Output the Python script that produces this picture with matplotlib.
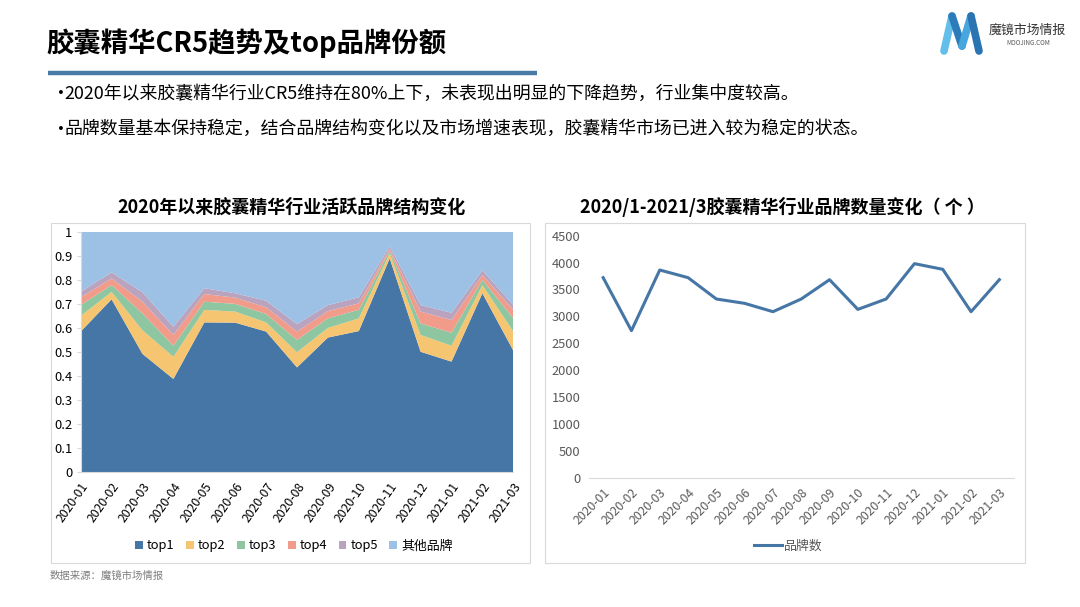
import matplotlib
matplotlib.use("Agg")
import matplotlib.pyplot as plt
from matplotlib.patches import Rectangle
from matplotlib.lines import Line2D
import numpy as np

plt.rcParams['font.family'] = ['Noto Sans CJK SC', 'DejaVu Sans']

months = ["2020-01", "2020-02", "2020-03", "2020-04", "2020-05", "2020-06", "2020-07",
          "2020-08", "2020-09", "2020-10", "2020-11", "2020-12", "2021-01", "2021-02", "2021-03"]

# cumulative boundaries, converted to shares
cum_top1 = [0.585, 0.719, 0.492, 0.388, 0.623, 0.622, 0.585, 0.436, 0.560, 0.587, 0.889, 0.501, 0.460, 0.744, 0.506]
cum_top2 = [0.650, 0.750, 0.590, 0.480, 0.675, 0.668, 0.623, 0.499, 0.600, 0.640, 0.910, 0.571, 0.526, 0.778, 0.585]
cum_top3 = [0.695, 0.778, 0.660, 0.526, 0.709, 0.700, 0.658, 0.550, 0.640, 0.675, 0.921, 0.619, 0.580, 0.800, 0.640]
cum_top4 = [0.727, 0.806, 0.709, 0.571, 0.741, 0.726, 0.686, 0.585, 0.670, 0.702, 0.929, 0.668, 0.633, 0.820, 0.675]
cum_top5 = [0.750, 0.831, 0.748, 0.605, 0.765, 0.744, 0.713, 0.616, 0.695, 0.727, 0.940, 0.695, 0.663, 0.840, 0.695]

top1 = np.array(cum_top1)
top2 = np.array(cum_top2) - np.array(cum_top1)
top3 = np.array(cum_top3) - np.array(cum_top2)
top4 = np.array(cum_top4) - np.array(cum_top3)
top5 = np.array(cum_top5) - np.array(cum_top4)
others = 1 - np.array(cum_top5)

series_names = ["top1", "top2", "top3", "top4", "top5", "其他品牌"]
series_colors = ["#4576A5", "#F5C572", "#8DC6A0", "#F19C8A", "#B9A3BF", "#9DC0E5"]

brand_count = [3720, 2734, 3862, 3720, 3323, 3242, 3087, 3323, 3682, 3130, 3323, 3980, 3875, 3087, 3682]

W, H = 1080, 607
fig = plt.figure(figsize=(W / 100, H / 100), dpi=100)
fig.patch.set_facecolor("white")

def fx(x):
    return x / W

def fy(y):
    return 1 - y / H

# Header
fig.text(fx(46), fy(43), "胶囊精华CR5趋势及top品牌份额", fontsize=19.7, fontweight="bold",
         va="center", ha="left", color="#000000")
fig.add_artist(Line2D([fx(48), fx(537)], [fy(73), fy(73)], color="#4A7BA7", lw=3.2,
                      solid_capstyle="butt"))
for yy, txt in [(94, "2020年以来胶囊精华行业CR5维持在80%上下，未表现出明显的下降趋势，行业集中度较高。"),
                (129, "品牌数量基本保持稳定，结合品牌结构变化以及市场增速表现，胶囊精华市场已进入较为稳定的状态。")]:
    fig.text(fx(57), fy(yy), "•", fontsize=9.5, va="center", ha="left", color="#000000",
             family="DejaVu Sans")
    fig.text(fx(64.5), fy(yy), txt, fontsize=12.9, va="center", ha="left", color="#000000")

# Logo (stylised ribbon "M")
segs = [((944, 51), (952, 16), "#62BFEA"),
        ((952, 16), (962, 46), "#2C7CBC"),
        ((962, 46), (971, 16), "#46A6DD"),
        ((971, 16), (979, 51), "#2A74B2")]
for (x0, y0), (x1, y1), c in segs:
    fig.add_artist(Line2D([fx(x0), fx(x1)], [fy(y0), fy(y1)], color=c, lw=5.5,
                          solid_capstyle="round"))
fig.text(fx(989), fy(30), "魔镜市场情报", fontsize=9.3, va="center", ha="left", color="#333333")
fig.text(fx(1028), fy(43), "MOOJING.COM", fontsize=4.5, va="center", ha="center", color="#555555")

# Chart borders
for x0, y0, x1, y1 in [(51, 223, 530, 563), (545, 223, 1025, 563)]:
    fig.add_artist(Rectangle((fx(x0), fy(y1)), fx(x1 - x0), (y1 - y0) / H, transform=fig.transFigure,
                             facecolor="none", edgecolor="#D9D9D9", lw=0.8))

# Left chart
fig.text(fx(292), fy(207), "2020年以来胶囊精华行业活跃品牌结构变化", fontsize=13, fontweight="bold",
         va="center", ha="center")
axL = fig.add_axes([fx(80.7), fy(472.3), fx(513.3 - 80.7), (472.3 - 231.7) / H])
x = np.arange(len(months))
axL.stackplot(x, top1, top2, top3, top4, top5, others, colors=series_colors, labels=series_names,
              linewidth=0)
axL.set_xlim(0, len(months) - 1)
axL.set_ylim(0, 1)
axL.set_yticks(np.arange(0, 1.01, 0.1))
axL.set_yticklabels(["0"] + ["%.1f" % v for v in np.arange(0.1, 0.95, 0.1)] + ["1"])
axL.set_xticks(x)
axL.set_xticklabels(months, rotation=55, ha="right", rotation_mode="anchor")
axL.tick_params(axis="y", labelsize=9.3, colors="#000000", length=3, color="#D9D9D9", pad=3)
axL.tick_params(axis="x", labelsize=8.8, colors="#000000", length=0, pad=6)
for s in ["top", "right"]:
    axL.spines[s].set_visible(False)
axL.spines["left"].set_color("#D9D9D9")
axL.spines["bottom"].set_color("#D9D9D9")
handles = [Rectangle((0, 0), 1, 1, facecolor=c, edgecolor="none") for c in series_colors]
fig.legend(handles, series_names, loc="center", bbox_to_anchor=(fx(294), fy(546)), ncol=6,
           frameon=False, fontsize=9.3, handlelength=0.6, handleheight=0.6, handletextpad=0.3,
           columnspacing=0.9)

# Right chart
fig.text(fx(782), fy(207), "2020/1-2021/3胶囊精华行业品牌数量变化（ 个 ）", fontsize=13, fontweight="bold",
         va="center", ha="center")
axR = fig.add_axes([fx(589), fy(477.7), fx(1013.5 - 589), (477.7 - 235.7) / H])
axR.plot(x, brand_count, color="#4576A5", lw=2.2, label="品牌数")
axR.set_xlim(-0.5, len(months) - 0.5)
axR.set_ylim(0, 4500)
axR.set_yticks(np.arange(0, 4501, 500))
axR.set_xticks(x)
axR.set_xticklabels(months, rotation=45, ha="right", rotation_mode="anchor")
axR.tick_params(axis="y", labelsize=9.3, colors="#595959", length=0, pad=6)
axR.tick_params(axis="x", labelsize=8.8, colors="#595959", length=0, pad=6)
for s in ["top", "right", "left"]:
    axR.spines[s].set_visible(False)
axR.spines["bottom"].set_color("#D9D9D9")
axR.legend(loc="center", bbox_to_anchor=(fx(788), fy(546)), bbox_transform=fig.transFigure,
           frameon=False, fontsize=9.3, handlelength=2.2, handletextpad=0.1, labelcolor="#595959")

# Source
fig.text(fx(50), fy(576), "数据来源：魔镜市场情报", fontsize=7.5, va="center", ha="left", color="#7F7F7F")

fig.savefig("out.png", dpi=100, facecolor="white")
